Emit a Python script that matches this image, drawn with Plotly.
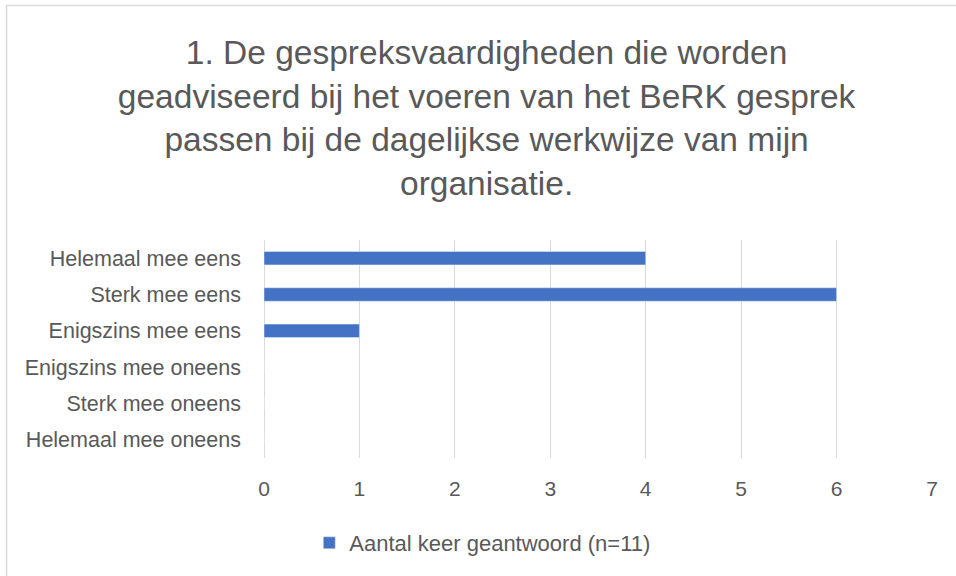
import plotly.graph_objects as go

# Survey answers (top to bottom as shown)
categories = [
    "Helemaal mee eens",
    "Sterk mee eens",
    "Enigszins mee eens",
    "Enigszins mee oneens",
    "Sterk mee oneens",
    "Helemaal mee oneens",
]
counts = [4, 6, 1, 0, 0, 0]
series_name = "Aantal keer geantwoord (n=11)"
title_text = ("1. De gespreksvaardigheden die worden<br>"
              "geadviseerd bij het voeren van het BeRK gesprek<br>"
              "passen bij de dagelijkse werkwijze van mijn<br>"
              "organisatie.")

FONT = "Liberation Sans, Arial, sans-serif"
GREY = "#595959"
GRID = "#D9D9D9"

fig = go.Figure()
fig.add_trace(go.Bar(
    x=counts, y=categories, orientation="h",
    name=series_name,
    marker=dict(color="#4472C4"),
))

fig.update_layout(
    width=956, height=576,
    paper_bgcolor="white", plot_bgcolor="white",
    font=dict(family=FONT, color=GREY, size=21),
    margin=dict(l=264, r=24, t=240, b=118),
    bargap=0.63,
    showlegend=True,
    title=dict(
        text=title_text,
        font=dict(family=FONT, size=33.5, color=GREY),
        x=0.509, xanchor="center",
        xref="container", yref="container",
        y=1 - 64 / 576, yanchor="top",
    ),
    legend=dict(
        orientation="h",
        xref="container", yref="container",
        x=0.505, xanchor="center",
        y=33 / 576, yanchor="middle",
        font=dict(size=22, color=GREY),
        itemwidth=30,
    ),
)

fig.update_xaxes(
    range=[0, 7], dtick=1,
    showgrid=True, gridcolor=GRID, gridwidth=1,
    zeroline=True, zerolinecolor=GRID, zerolinewidth=1,
    showline=False, ticks="",
    ticklabelstandoff=16,
    tickfont=dict(size=21, color=GREY),
)
fig.update_yaxes(
    autorange="reversed",
    showgrid=False, zeroline=False, showline=False, ticks="",
    ticklabelstandoff=22,
    tickfont=dict(size=21.5, color=GREY),
)

# light grey chart border, as in the spreadsheet export
fig.add_shape(
    type="rect", xref="paper", yref="paper",
    x0=(6.5 - 264) / 668, x1=(960 - 264) / 668,
    y0=(458 - 580) / 218, y1=(458 - 5.5) / 218,
    line=dict(color=GRID, width=1.5), fillcolor="rgba(0,0,0,0)",
    layer="below",
)

fig.write_html("out.html", config={"displayModeBar": False},
               post_script="document.body.style.margin='0';")
